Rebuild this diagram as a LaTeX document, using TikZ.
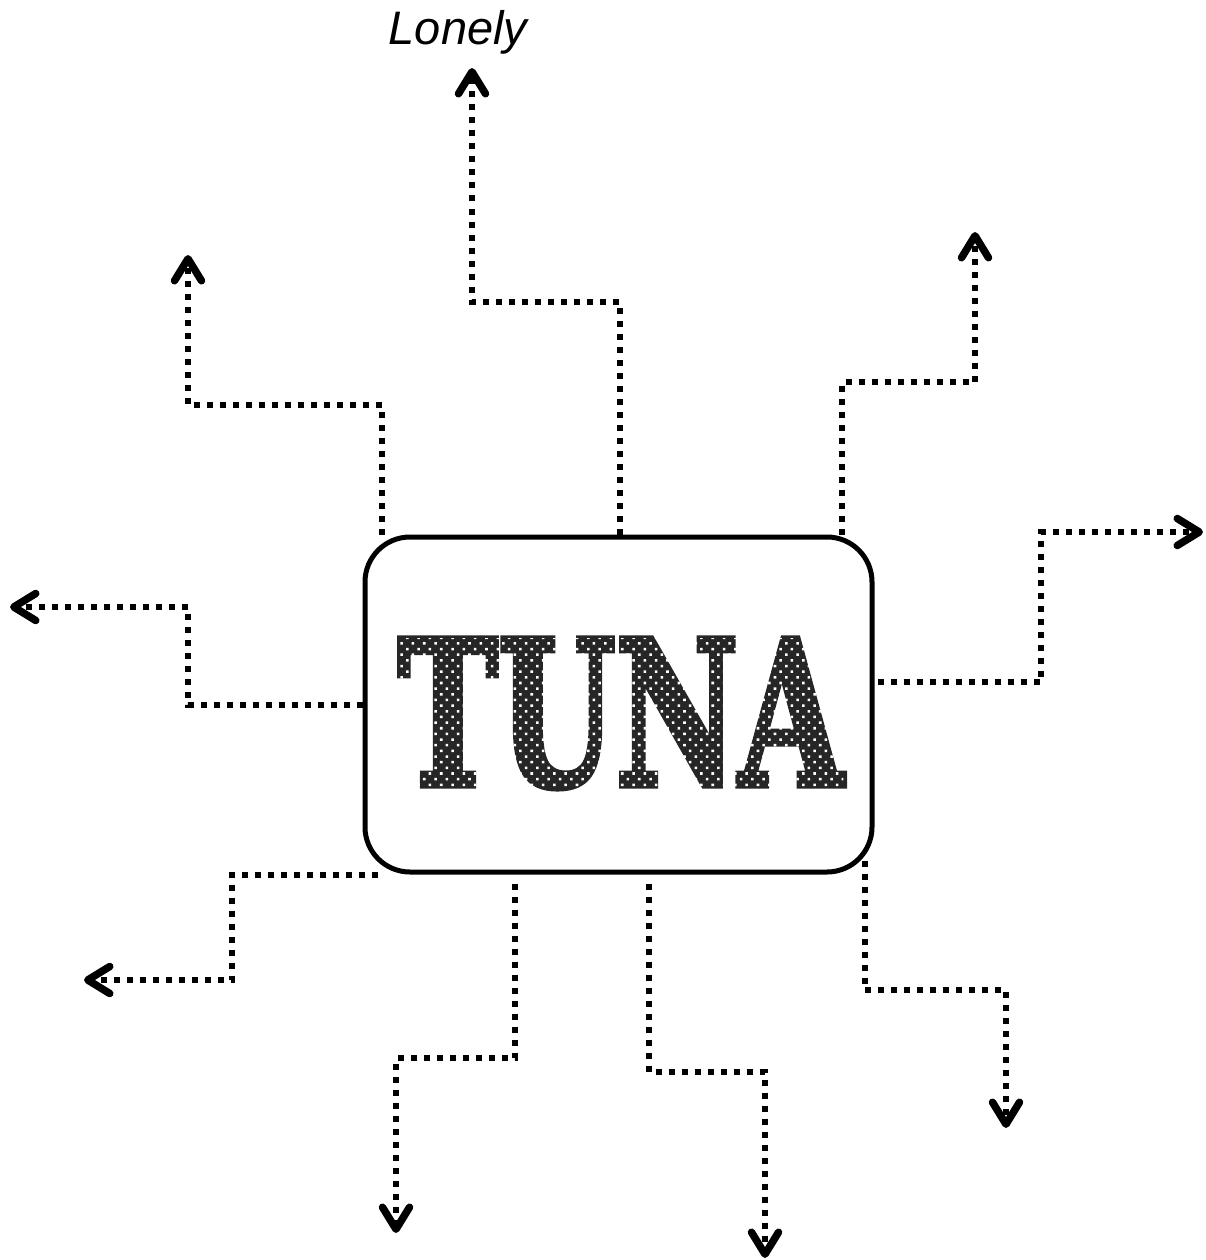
\documentclass[tikz,border=0pt]{standalone}
\usepackage{fontspec}
\setmainfont{Liberation Sans}
\newfontfamily\tunafont{DejaVu Serif Condensed}[BoldFeatures={FakeBold=3}]
\usetikzlibrary{arrows.meta,patterns.meta}
\begin{document}
\begin{tikzpicture}[x=1pt,y=-1pt,
  conn/.style={line width=6pt, dash pattern=on 6pt off 7pt,
    -{Straight Barb[length=22pt,width=27pt,line width=7.5pt,round]}},
  mainbox/.style={draw, line width=5pt, rounded corners=45pt,
    minimum width=507pt, minimum height=335pt, inner sep=0pt},
  label/.style={font=\itshape\fontsize{47}{56}\selectfont, inner sep=0pt}
]
\useasboundingbox (0,0) rectangle (1206,1260);

\node[mainbox] (box) at (618.5,704.5) {};
\node[inner sep=0pt, text=black!85] (tuna) at (620.5,713.5)
  {\resizebox{445pt}{147pt}{\tunafont\bfseries TUNA}};
\path[pattern={Dots[distance=8pt,radius=1.8pt,angle=45]}, pattern color=white]
  (tuna.south west) rectangle (tuna.north east);

\node[label] (lonely) at (458,32) {Lonely};

% bend points and free ends
\coordinate (b1) at (620,302);  \coordinate (t1) at (472,68);
\coordinate (b2) at (382,405);  \coordinate (t2) at (188,255);
\coordinate (b3) at (842,382);  \coordinate (t3) at (975,232);
\coordinate (b4) at (1041,682); \coordinate (t4) at (1203,532);
\coordinate (b5) at (188,705);  \coordinate (t5) at (10,607);
\coordinate (b6) at (232,980);  \coordinate (t6) at (84,980);
\coordinate (b7) at (515,1058); \coordinate (t7) at (396,1233);
\coordinate (b8) at (649,1072); \coordinate (t8) at (765,1258);
\coordinate (b9) at (1006,990); \coordinate (t9) at (1006,1128);

\draw[conn] (b1 |- box.north) -- (b1) -| (t1);
\draw[conn] (b2 |- box.north) -- (b2) -| (t2);
\draw[conn] (b3 |- box.north) -- (b3) -| (t3);
\draw[conn, shorten <=3pt] (b4 -| box.east) -- (b4) |- (t4);
\draw[conn] (b5 -| box.west) -- (b5) |- (t5);
\draw[conn] ([xshift=-240.5pt]box.south) -| (b6) -- (t6);
\draw[conn, shorten <=9pt] (b7 |- box.south) -- (b7) -| (t7);
\draw[conn, shorten <=9pt] (b8 |- box.south) -- (b8) -| (t8);
\draw[conn] ([xshift=-10pt,yshift=14pt]box.south east) |- (b9) -- (t9);
\end{tikzpicture}
\end{document}
